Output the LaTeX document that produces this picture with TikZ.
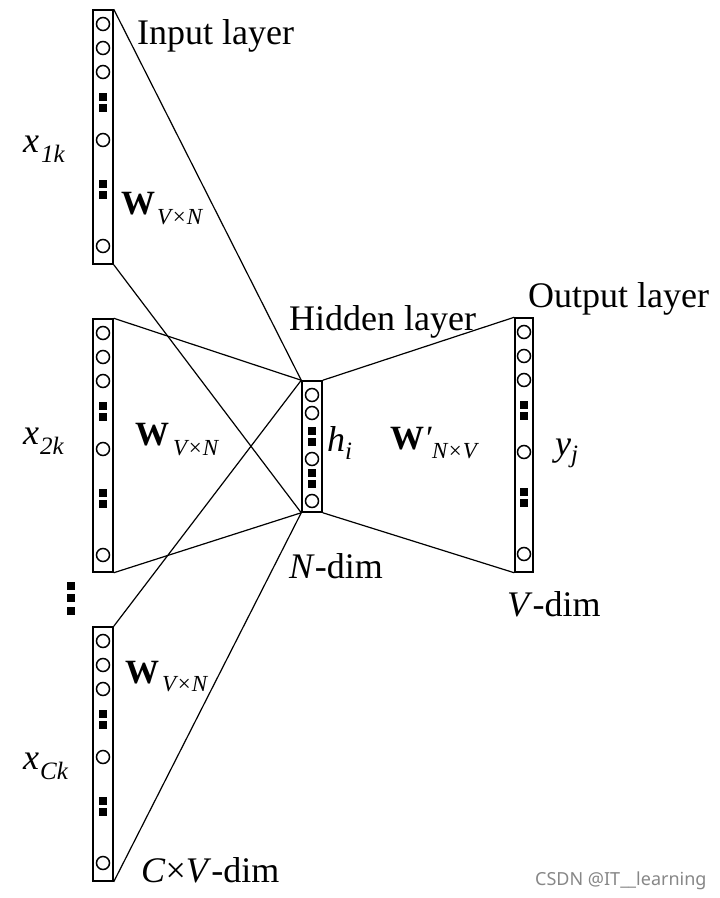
\documentclass[tikz,border=0pt]{standalone}
\usepackage{fontspec}
\setmainfont{Liberation Serif}
\newfontfamily\wmfont{Noto Sans}
\definecolor{wmgray}{RGB}{135,135,135}

% subscript lowered below the baseline, smaller size
\newcommand{\lowsub}[2][10pt]{\raisebox{-#1}{\fontsize{23}{23}\selectfont\itshape #2}}
\newcommand{\vecsub}[1]{\raisebox{-10pt}{\fontsize{25}{25}\selectfont\itshape #1}}

% unit circles and ellipsis squares of a tall layer column (x centre, y top)
\newcommand{\tallstack}[3][130]{%
  \foreach \dy in {14,38,62,#1,236} \draw[unitcirc] (#2,#3+\dy) circle[radius=6.5pt];
  \foreach \dy in {87,98,174,185} \fill (#2,#3+\dy) ++(-3.7,-3.7) rectangle ++(7.4,7.4);
}

\begin{document}
\begin{tikzpicture}[x=1pt,y=-1pt,
  layerbox/.style={draw, line width=1.5pt, minimum width=20pt, inner sep=0pt},
  unitcirc/.style={line width=1.5pt},
  link/.style={line width=1.2pt},
  lbl/.style={anchor=base west, inner sep=0pt, font=\fontsize{36}{36}\selectfont},
  wlbl/.style={anchor=base west, inner sep=0pt, font=\fontsize{34}{34}\selectfont}]

\useasboundingbox (0,0) rectangle (720,898);

% input columns
\node[layerbox, minimum height=254pt] (in1) at (103,137) {};
\node[layerbox, minimum height=253pt] (in2) at (103,445.5) {};
\node[layerbox, minimum height=254pt] (in3) at (103,754) {};
\tallstack{103}{10}
\tallstack{103}{319}
\tallstack{103}{627}

% hidden column
\node[layerbox, minimum height=131pt] (hid) at (312,446.5) {};
\foreach \dy in {14,32,78,120} \draw[unitcirc] (312,381+\dy) circle[radius=6.5pt];
\foreach \dy in {50,61,92,103} \fill (312,381+\dy) ++(-3.7,-3.7) rectangle ++(7.4,7.4);

% output column
\node[layerbox, minimum width=18pt, minimum height=254pt] (out) at (524,445) {};
\tallstack[134]{524}{318}

% vertical dots between the second and last input column
\foreach \yy in {586,598,611} \fill (71,\yy) ++(-4,-4) rectangle ++(8,8);

% connections
\draw[link] (in1.north east) -- (hid.north west);
\draw[link] (in1.south east) -- (hid.south west);
\draw[link] (in2.north east) -- (hid.north west);
\draw[link] (in2.south east) -- (hid.south west);
\draw[link] (in3.north east) -- (hid.north west);
\draw[link] (in3.south east) -- (hid.south west);
\draw[link] (hid.north east) -- (out.north west);
\draw[link] (hid.south east) -- (out.south west);

% layer titles
\node[lbl] (tin) at (137,44) {Input layer};
\node[lbl] (thid) at (289,330) {Hidden layer};
\node[lbl] (tout) at (528,307) {Output layer};

% dimensions
\node[lbl] (dn) at (289,578) {\textit{N}-dim};
\node[lbl] (dv) at (507,616) {\textit{V}-dim};
\node[lbl] (dcv) at (141,882) {\textit{C}×\textit{V}-dim};

% input vectors
\node[lbl] (x1) at (23,152) {\textit{x}\kern2pt\vecsub{1k}};
\node[lbl] (x2) at (23,444) {\textit{x}\kern1pt\vecsub{2k}};
\node[lbl] (x3) at (23,769) {\textit{x}\kern1pt\vecsub{Ck}};

% weight matrices
\node[wlbl] (w1) at (121,214) {\textbf{W}\kern2pt\lowsub{V×N}};
\node[wlbl] (w2) at (135,445) {\textbf{W}\kern4pt\lowsub{V×N}};
\node[wlbl] (w3) at (125,683) {\textbf{W}\kern3pt\lowsub[8pt]{V×N}};
\node[wlbl] (wp) at (390,449) {\textbf{W}\textit{\char"2032}\lowsub[9pt]{N×V}};

% hidden and output values
\node[lbl] (h) at (327,451) {\textit{h}\raisebox{-8pt}{\fontsize{25}{25}\selectfont\itshape i}};
\node[lbl] (y) at (555,455) {\textit{y}\raisebox{-7pt}{\fontsize{25}{25}\selectfont\itshape j}};

% watermark
\node[anchor=base west, inner sep=0pt, text=wmgray, font=\wmfont\fontsize{18}{18}\selectfont] (wm) at (535,885) {CSDN @IT\_\_learning};
\end{tikzpicture}
\end{document}
